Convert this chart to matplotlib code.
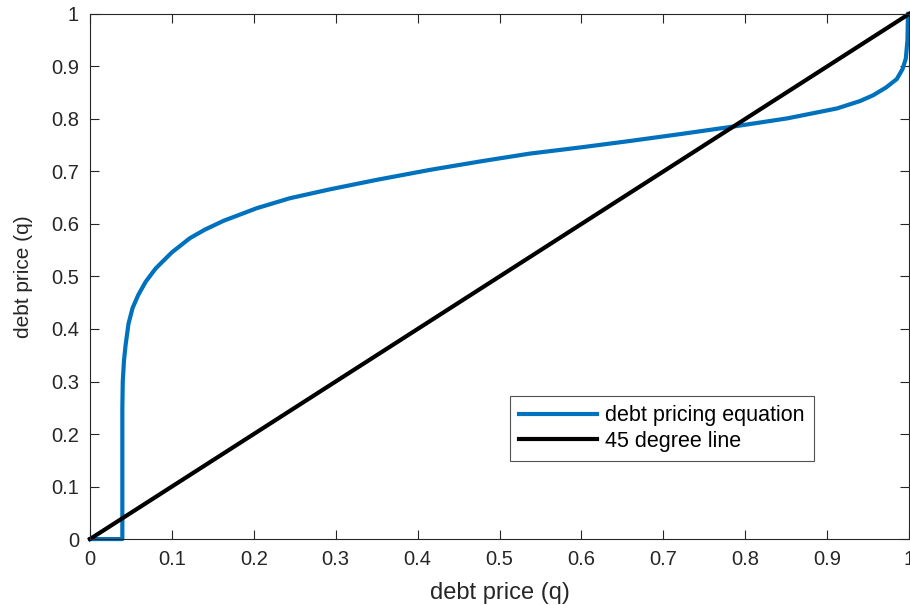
import matplotlib
matplotlib.use('Agg')
import matplotlib.pyplot as plt
import numpy as np

plt.rcParams['font.family'] = ['Liberation Sans', 'DejaVu Sans']

# debt pricing equation
q_grid = [0, 0.0395, 0.0395, 0.040, 0.0415, 0.0435, 0.047, 0.052, 0.059, 0.068,
          0.080, 0.100, 0.122, 0.140, 0.163, 0.2035, 0.244, 0.293, 0.350, 0.415,
          0.480, 0.537, 0.600, 0.659, 0.720, 0.7875, 0.851, 0.912, 0.940, 0.956,
          0.972, 0.985, 0.992, 0.996, 0.998, 0.9985, 0.999]
q_price = [0, 0, 0.25, 0.30, 0.34, 0.37, 0.41, 0.44, 0.465, 0.49,
           0.515, 0.546, 0.573, 0.589, 0.606, 0.630, 0.649, 0.666, 0.684, 0.703,
           0.720, 0.734, 0.746, 0.758, 0.771, 0.786, 0.801, 0.820, 0.834, 0.845,
           0.860, 0.876, 0.895, 0.915, 0.950, 0.990, 1.0]

# 45 degree line
line45 = [0, 1]

ticks = [0, 0.1, 0.2, 0.3, 0.4, 0.5, 0.6, 0.7, 0.8, 0.9, 1]
tick_labels = ['0', '0.1', '0.2', '0.3', '0.4', '0.5', '0.6', '0.7', '0.8', '0.9', '1']

fig = plt.figure(figsize=(9.1, 6.05), dpi=100)
ax = fig.add_axes([0.0989, 0.109, 0.9001, 0.868])

ax.plot(q_grid, q_price, color='#0072BD', lw=3.0, label='debt pricing equation',
        solid_joinstyle='round', clip_on=False)
ax.plot(line45, line45, color='k', lw=3.0, label='45 degree line', clip_on=False)

ax.set_xlim(0, 1)
ax.set_ylim(0, 1)
ax.set_xticks(ticks)
ax.set_xticklabels(tick_labels)
ax.set_yticks(ticks)
ax.set_yticklabels(tick_labels)
ax.tick_params(direction='in', top=True, right=True, length=6.5, width=0.8,
               color='#262626', labelsize=14.5, labelcolor='#262626', pad=8)
for s in ax.spines.values():
    s.set_color('#262626')
    s.set_linewidth(0.8)

ax.set_xlabel('debt price (q)', fontsize=17, color='#262626', labelpad=9)
ax.set_ylabel('debt price (q)', fontsize=15, color='#262626', labelpad=13)

leg = ax.legend(loc='lower left', bbox_to_anchor=(0.513, 0.149), borderaxespad=0,
                fontsize=15.5, frameon=True, fancybox=False, handlelength=3.6,
                handletextpad=0.4, borderpad=0.42, labelspacing=0.2)
leg.get_frame().set_edgecolor('#262626')
leg.get_frame().set_linewidth(0.8)

fig.savefig('out.png', dpi=100)
